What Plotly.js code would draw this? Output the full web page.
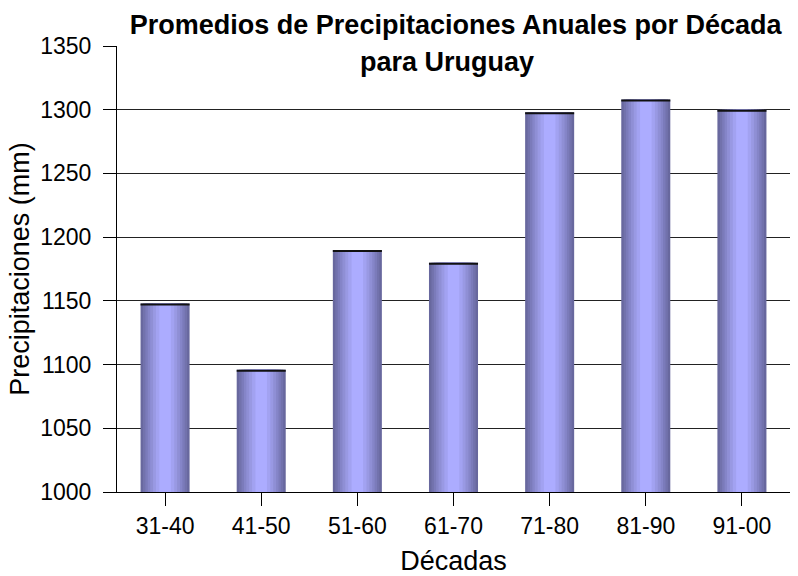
<!DOCTYPE html>
<html>
<head>
<meta charset="utf-8">
<script src="https://cdn.plot.ly/plotly-3.0.1.min.js"></script>
<style>html,body{margin:0;padding:0;background:#fff;}#chart{width:798px;height:576px;}</style>
</head>
<body>
<div id="chart"></div>
<script>
// Data
const decadas = ["31-40", "41-50", "51-60", "61-70", "71-80", "81-90", "91-00"];
const precipitaciones = [1148, 1096, 1190, 1180, 1298, 1308, 1300];
const yTicks = [1000, 1050, 1100, 1150, 1200, 1250, 1300, 1350];

// Cylinder-like shading built from overlaid bars of decreasing width
const layerWidths = [0.51, 0.46, 0.41, 0.36, 0.31, 0.25, 0.19, 0.12];
const dark = [104, 104, 158], light = [172, 172, 255];
const traces = layerWidths.map((w, i) => {
  const t = i / (layerWidths.length - 1);
  const c = dark.map((d, k) => Math.round(d + (light[k] - d) * t));
  return {
    type: 'bar', x: decadas, y: precipitaciones.map(v => v - 1000), base: 1000,
    width: w, marker: {color: `rgb(${c[0]},${c[1]},${c[2]})`, line: {width: 0}},
    hoverinfo: 'skip', showlegend: false
  };
});
// dark cap on top of each bar
const capH = 1.6;
traces.push({
  type: 'bar', x: decadas, y: precipitaciones.map(() => capH),
  base: precipitaciones.map(v => v - capH), width: 0.51,
  marker: {color: '#111', line: {width: 0}}, hoverinfo: 'skip', showlegend: false
});

const titleFont = {family: 'Liberation Sans, Arial, sans-serif', size: 27, weight: 'bold', color: '#000'};

const layout = {
  width: 798, height: 576,
  margin: {l: 117, r: 8, t: 46, b: 84},
  paper_bgcolor: '#fff', plot_bgcolor: '#fff',
  barmode: 'overlay',
  font: {family: 'Liberation Sans, Arial, sans-serif', color: '#000'},
  title: {
    text: 'Promedios de Precipitaciones Anuales por Década',
    font: titleFont,
    x: 0.571, xanchor: 'center', y: 0.958, yanchor: 'middle', yref: 'container'
  },
  annotations: [{
    text: 'para Uruguay', showarrow: false, xref: 'paper', yref: 'paper',
    x: 0.49, xanchor: 'center', y: 0.965, yanchor: 'middle',
    font: titleFont
  }],
  xaxis: {
    type: 'category', showline: true, linecolor: '#000', linewidth: 1,
    ticks: 'outside', ticklen: 13, tickcolor: '#000', tickwidth: 1,
    tickfont: {size: 23}, showgrid: false, zeroline: false, fixedrange: true,
    title: {text: 'Décadas', font: {size: 27}, standoff: 13}
  },
  yaxis: {
    range: [1000, 1350], tickvals: yTicks, ticktext: yTicks.map(String),
    showline: true, linecolor: '#000', linewidth: 1,
    ticks: 'outside', ticklen: 13, tickcolor: '#000', tickwidth: 1,
    ticklabelstandoff: 7,
    showgrid: true, gridcolor: '#222', gridwidth: 1, zeroline: false,
    tickfont: {size: 23}, fixedrange: true,
    title: {text: 'Precipitaciones (mm)', font: {size: 27}, standoff: 2}
  }
};

Plotly.newPlot('chart', traces, layout, {displayModeBar: false, staticPlot: true});
</script>
</body>
</html>
